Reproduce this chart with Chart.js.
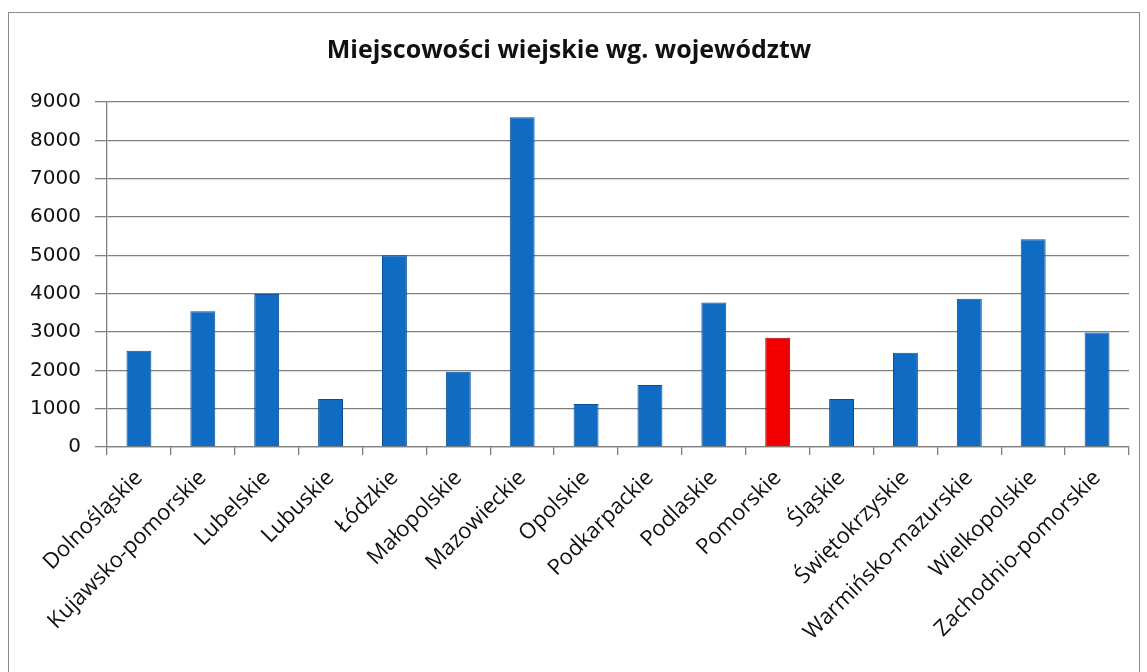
<!DOCTYPE html>
<html>
<head>
<meta charset="utf-8">
<script src="https://cdn.jsdelivr.net/npm/chart.js@4/dist/chart.umd.min.js"></script>
<style>
  html, body { margin: 0; padding: 0; background: #fff; overflow: hidden; }
  #box {
    position: absolute; left: 8px; top: 12px;
    width: 1132px; height: 680px;
    border: 1px solid #8c8c8c; box-sizing: border-box;
  }
</style>
</head>
<body>
<div id="box"><canvas id="chart"></canvas></div>
<script>
const chartTitle = 'Miejscowości wiejskie wg. województw';
const voivodeships = ['Dolnośląskie', 'Kujawsko-pomorskie', 'Lubelskie', 'Lubuskie', 'Łódzkie',
  'Małopolskie', 'Mazowieckie', 'Opolskie', 'Podkarpackie', 'Podlaskie', 'Pomorskie', 'Śląskie',
  'Świętokrzyskie', 'Warmińsko-mazurskie', 'Wielkopolskie', 'Zachodnio-pomorskie'];
const villageCounts = [2510, 3540, 3990, 1250, 5000, 1960, 8600, 1120, 1620, 3770, 2850, 1250,
  2460, 3870, 5420, 2990];
const highlighted = 'Pomorskie';
const yTicks = [0, 1000, 2000, 3000, 4000, 5000, 6000, 7000, 8000, 9000];

const box = document.getElementById('box');
const canvas = document.getElementById('chart');
canvas.width = box.clientWidth;
canvas.height = box.clientHeight;

function barFill(context) {
  const isRed = voivodeships[context.dataIndex] === highlighted;
  const meta = context.chart.getDatasetMeta(0);
  const bar = meta.data[context.dataIndex];
  if (!bar || !bar.width || isNaN(bar.x)) return isRed ? '#f20000' : '#0f6cc2';
  const ctx = context.chart.ctx;
  const g = ctx.createLinearGradient(bar.x - bar.width / 2, 0, bar.x + bar.width / 2, 0);
  if (isRed) {
    g.addColorStop(0, '#cc0000');
    g.addColorStop(0.4, '#ff1010');
    g.addColorStop(1, '#d40000');
  } else {
    g.addColorStop(0, '#0b5aa8');
    g.addColorStop(0.4, '#1a78cc');
    g.addColorStop(1, '#0c5eae');
  }
  return g;
}

new Chart(canvas, {
  type: 'bar',
  data: {
    labels: voivodeships,
    datasets: [{
      label: 'Miejscowości',
      data: villageCounts,
      backgroundColor: barFill,
      borderColor: voivodeships.map(v => v === highlighted ? '#b00000' : '#0a4f95'),
      borderWidth: 1,
      categoryPercentage: 1.0,
      barPercentage: 0.39
    }]
  },
  options: {
    responsive: false,
    animation: false,
    layout: { padding: { left: 0, right: 10, top: 0, bottom: 0 } },
    plugins: {
      legend: { display: false },
      tooltip: { enabled: false },
      title: {
        display: true,
        text: chartTitle,
        color: '#111',
        font: { family: 'Open Sans', size: 25, weight: 'bold' },
        padding: { top: 23, bottom: 36 }
      }
    },
    scales: {
      x: {
        afterFit: scale => { scale.height = 244; },
        grid: {
          offset: true,
          drawOnChartArea: false,
          color: '#808080',
          lineWidth: 1.3,
          tickLength: 8
        },
        border: { color: '#808080', width: 1.3 },
        ticks: {
          autoSkip: false,
          minRotation: 45,
          maxRotation: 45,
          padding: 10,
          color: '#111',
          font: { family: 'Open Sans', size: 22 }
        }
      },
      y: {
        min: 0,
        max: 9000,
        afterFit: scale => { scale.width = 98; },
        afterBuildTicks: scale => { scale.ticks = yTicks.map(v => ({ value: v })); },
        grid: {
          color: '#808080',
          lineWidth: 1.3,
          tickLength: 12
        },
        border: { color: '#808080', width: 1.3 },
        ticks: {
          padding: 14,
          color: '#111',
          font: { family: 'DejaVu Sans', size: 20 },
          callback: value => String(value)
        }
      }
    }
  }
});
</script>
</body>
</html>
